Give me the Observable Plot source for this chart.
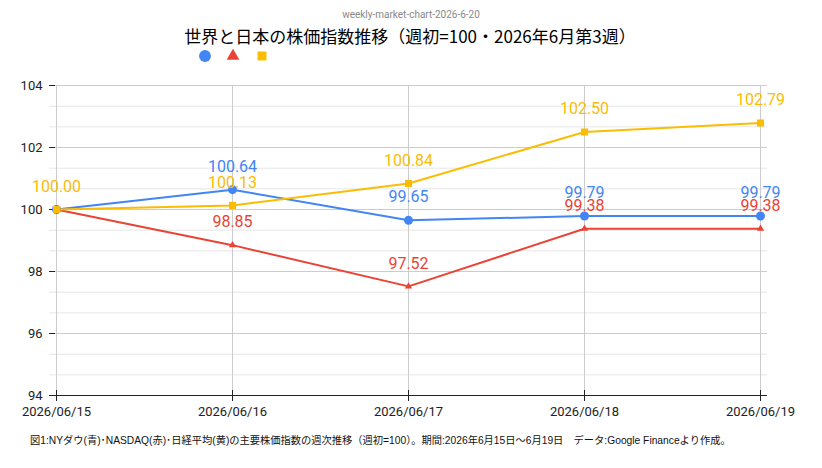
<!DOCTYPE html>
<html>
<head>
<meta charset="utf-8">
<script src="https://cdn.jsdelivr.net/npm/d3@7"></script>
<script src="https://cdn.jsdelivr.net/npm/@observablehq/plot@0.6"></script>
<style>
  html, body { margin: 0; padding: 0; background: #fff; }
  #wrap { position: relative; width: 822px; height: 468px; font-family: Roboto, "Noto Sans CJK JP", Arial, sans-serif; }
  #sub { position: absolute; top: 8px; left: 0; width: 822px; text-align: center; font-size: 10px; line-height: 14px; color: #888; }
  #title { position: absolute; top: 25px; left: 0; width: 820px; text-align: center; font-size: 17px; line-height: 22px; font-weight: normal; color: #000; font-family: "Noto Sans CJK JP", sans-serif; }
  #legend { position: absolute; top: 48px; left: 0; }
  #chart { position: absolute; top: 65px; left: 0; }
  #caption { position: absolute; top: 434px; left: 30px; font-size: 10.25px; line-height: 14px; color: #111; white-space: nowrap; font-family: "Liberation Sans", "Noto Sans CJK JP", sans-serif; }
</style>
</head>
<body>
<div id="wrap">
  <div id="sub"></div>
  <div id="title"></div>
  <div id="legend"></div>
  <div id="chart"></div>
  <div id="caption"></div>
</div>
<script>
const subtitle = "weekly-market-chart-2026-6-20";
const title = "世界と日本の株価指数推移（週初=100・2026年6月第3週）";
const caption = "図1:NYダウ(青)･NASDAQ(赤)･日経平均(黄)の主要株価指数の週次推移（週初=100）。期間:2026年6月15日～6月19日　データ:Google Financeより作成。";

const dates = ["2026/06/15", "2026/06/16", "2026/06/17", "2026/06/18", "2026/06/19"];
const dow    = [100.00, 100.64, 99.65, 99.79, 99.79];
const nasdaq = [100.00, 98.85, 97.52, 99.38, 99.38];
const nikkei = [100.00, 100.13, 100.84, 102.50, 102.79];

const seriesNames = ["NYダウ", "NASDAQ", "日経平均"];
const seriesValues = [dow, nasdaq, nikkei];
const colors = ["#4285F4", "#EA4335", "#FBBC04"];
const symbols = ["circle", "triangle", "square"];
const symbolR = [4.5, 2.7, 4];

const yTicks = [94, 96, 98, 100, 102, 104];
const yMinor = [94.667, 95.333, 96.667, 97.333, 98.667, 99.333, 100.667, 101.333, 102.667, 103.333];

document.getElementById("sub").textContent = subtitle;
document.getElementById("title").textContent = title;
document.getElementById("caption").textContent = caption;

// legend (symbols only, as in the reference)
{
  const lg = d3.create("svg").attr("width", 300).attr("height", 14);
  const lx = [205, 233, 262];
  const lsize = [110, 70, 80];
  const d3sym = {circle: d3.symbolCircle, triangle: d3.symbolTriangle, square: d3.symbolSquare};
  seriesNames.forEach((n, i) => {
    lg.append("path")
      .attr("transform", `translate(${lx[i]},7)`)
      .attr("d", d3.symbol(d3sym[symbols[i]], lsize[i])())
      .attr("fill", colors[i]);
  });
  document.getElementById("legend").append(lg.node());
}

const rows = [];
seriesNames.forEach((name, i) => {
  dates.forEach((d, j) => rows.push({date: d, value: seriesValues[i][j], series: name, idx: i}));
});

const W = 822, H = 360, ML = 49, MR = 55, MT = 20, MB = 30;

const seriesMarks = seriesNames.flatMap((name, i) => {
  const data = rows.filter(r => r.series === name);
  return [
    Plot.line(data, {x: "date", y: "value", stroke: colors[i], strokeWidth: 2}),
    Plot.dot(data, {x: "date", y: "value", fill: colors[i], symbol: symbols[i], r: symbolR[i], stroke: "none"})
  ];
});

// a label hidden beneath an identical label of a later series is drawn only once (topmost)
const labelRows = rows.filter(r => !rows.some(o => o.idx > r.idx && o.date === r.date && o.value === r.value));
const labelMarks = seriesNames.map((name, i) => {
  const data = labelRows.filter(r => r.series === name);
  return Plot.text(data, {x: "date", y: "value", text: d => d.value.toFixed(2), fill: colors[i], fontSize: 16, dy: -23});
});

const chart = Plot.plot({
  width: W,
  height: H,
  marginLeft: ML,
  marginRight: MR,
  marginTop: MT,
  marginBottom: MB,
  style: {fontFamily: "Roboto, Arial, sans-serif", fontSize: "13px", color: "#222", background: "#fff"},
  x: {type: "point", domain: dates, padding: 0, inset: 7},
  y: {domain: [94, 104]},
  marks: [
    Plot.ruleY(yMinor, {stroke: "#e6e6e6"}),
    Plot.ruleY(yTicks, {stroke: "#cccccc"}),
    Plot.ruleX(dates, {stroke: "#cccccc"}),
    Plot.ruleY(yTicks, {stroke: "#222", insetRight: (W - ML - MR) - 6}),
    Plot.axisY({ticks: yTicks, tickSize: 0, tickPadding: 7, label: null, fontSize: 13}),
    Plot.ruleY([94], {stroke: "#222"}),
    Plot.axisX({tickSize: 11, dy: -5, tickPadding: 5, label: null, fontSize: 13, stroke: "#222"}),
    ...seriesMarks,
    ...labelMarks
  ]
});
document.getElementById("chart").append(chart);
</script>
</body>
</html>
